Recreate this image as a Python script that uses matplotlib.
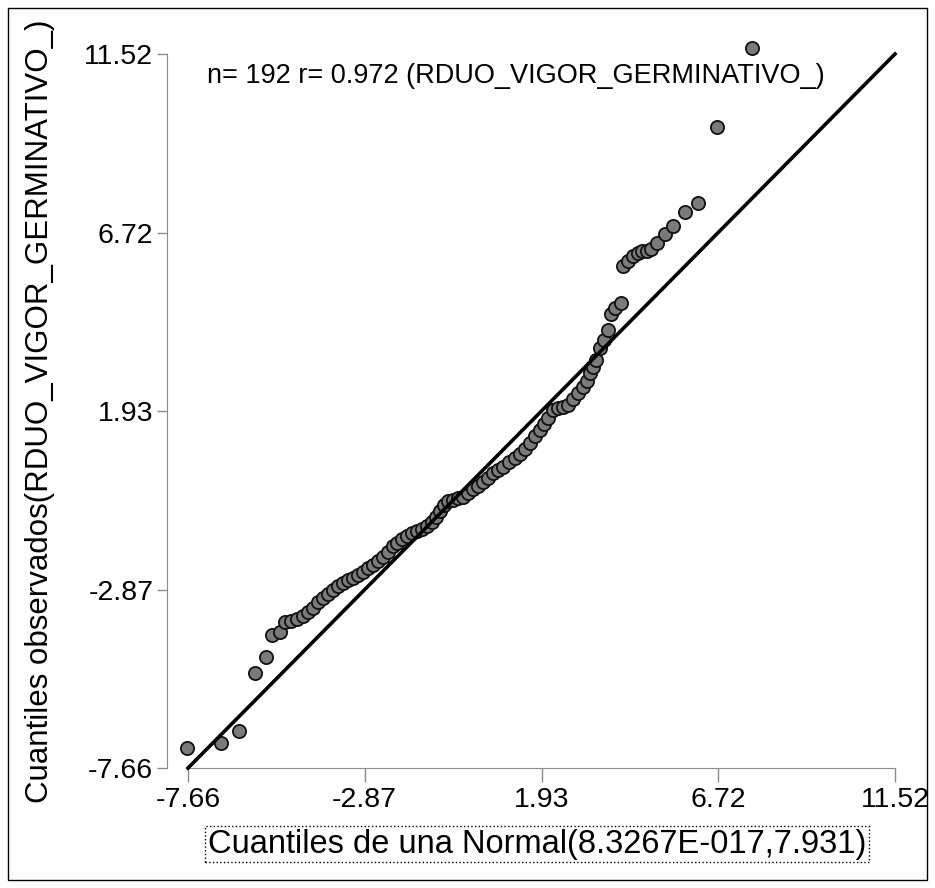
import matplotlib
matplotlib.use('Agg')
from matplotlib import pyplot as plt
from matplotlib.patches import Rectangle

plt.rcParams['font.family'] = ['Liberation Sans', 'DejaVu Sans']

# cuantiles teoricos (eje x) y observados (eje y)
teoricos = [-7.69, -6.77, -6.28, -5.84, -5.54, -5.38, -5.16, -5.03, -4.87, -4.70,
            -4.54, -4.40, -4.27, -4.13, -4.00, -3.86, -3.73, -3.59, -3.46, -3.32,
            -3.18, -3.05, -2.91, -2.78, -2.64, -2.51, -2.37, -2.23, -2.10, -1.99,
            -1.85, -1.72, -1.58, -1.45, -1.31, -1.18, -1.04, -0.93, -0.82, -0.71,
            -0.61, -0.47, -0.33, -0.20, -0.06, 0.07, 0.21, 0.34, 0.48, 0.61,
            0.75, 0.89, 1.05, 1.21, 1.35, 1.48, 1.62, 1.75, 1.89, 2.00,
            2.11, 2.24, 2.38, 2.51, 2.65, 2.79, 2.92, 3.06, 3.16, 3.25,
            3.33, 3.41, 3.52, 3.63, 3.73, 3.82, 3.92, 4.09, 4.14, 4.28,
            4.41, 4.55, 4.66, 4.79, 4.90, 5.06, 5.28, 5.50, 5.82, 6.18,
            6.69, 7.64]
observados = [-7.12, -6.99, -6.67, -5.11, -4.68, -4.09, -4.01, -3.74, -3.71, -3.67,
              -3.58, -3.47, -3.36, -3.20, -3.09, -2.99, -2.88, -2.77, -2.69, -2.61,
              -2.56, -2.48, -2.39, -2.29, -2.21, -2.10, -1.99, -1.86, -1.70, -1.62,
              -1.51, -1.43, -1.35, -1.29, -1.24, -1.16, -1.05, -0.92, -0.76, -0.59,
              -0.49, -0.45, -0.41, -0.38, -0.27, -0.17, -0.08, 0.02, 0.13, 0.26,
              0.35, 0.43, 0.56, 0.67, 0.78, 0.91, 1.07, 1.26, 1.42, 1.58,
              1.74, 1.96, 2.01, 2.04, 2.09, 2.25, 2.41, 2.58, 2.74, 2.95,
              3.11, 3.30, 3.62, 3.84, 4.11, 4.54, 4.70, 4.83, 5.83, 5.96,
              6.09, 6.17, 6.23, 6.24, 6.28, 6.44, 6.69, 6.90, 7.28, 7.52,
              9.56, 11.68]
ticks = [-7.66, -2.87, 1.93, 6.72, 11.52]
ticklabels = ['-7.66', '-2.87', '1.93', '6.72', '11.52']

fig = plt.figure(figsize=(9.35, 8.88), dpi=100)
ax = fig.add_axes([0.2011, 0.1351, 0.7561, 0.8041])

ax.plot(teoricos, observados, 'o', ms=9.5, mfc='#7a7a7a', mec='#111111', mew=1.3, clip_on=False, zorder=2)
ax.plot([ticks[0], ticks[-1]], [ticks[0], ticks[-1]], color='black', lw=2.6, zorder=3, clip_on=False)

ax.set_xlim(ticks[0], ticks[-1])
ax.set_ylim(ticks[0], ticks[-1])
ax.set_xticks(ticks)
ax.set_xticklabels(ticklabels)
ax.set_yticks(ticks)
ax.set_yticklabels(ticklabels)

for s in ['top', 'right']:
    ax.spines[s].set_visible(False)
ax.spines['left'].set_position(('outward', 15))
ax.spines['left'].set_color('#8c8c8c')
ax.spines['bottom'].set_color('#8c8c8c')
ax.tick_params(axis='both', colors='#8c8c8c', labelcolor='black', labelsize=20.5, width=1)
ax.tick_params(axis='x', length=10, pad=4)
ax.tick_params(axis='y', length=7, pad=3)

ax.text(0.027, 0.969, 'n= 192 r= 0.972 (RDUO_VIGOR_GERMINATIVO_)', transform=ax.transAxes,
        fontsize=19.5, va='center', ha='left')

fig.text(537/935, 1 - 844/888, 'Cuantiles de una Normal(8.3267E-017,7.931)', fontsize=23.5,
         ha='center', va='center',
         bbox=dict(boxstyle='square,pad=0.08', fc='none', ec='black', ls=':', lw=1))
fig.text(40/935, 1 - 411/888, 'Cuantiles observados(RDUO_VIGOR_GERMINATIVO_)', fontsize=22.5,
         ha='center', va='center', rotation=90)

# marco exterior
fig.patches.append(Rectangle((8/935, 8/888), 919/935, 872/888, transform=fig.transFigure,
                             fill=False, ec='black', lw=1))

plt.savefig('out.png', dpi=100)
